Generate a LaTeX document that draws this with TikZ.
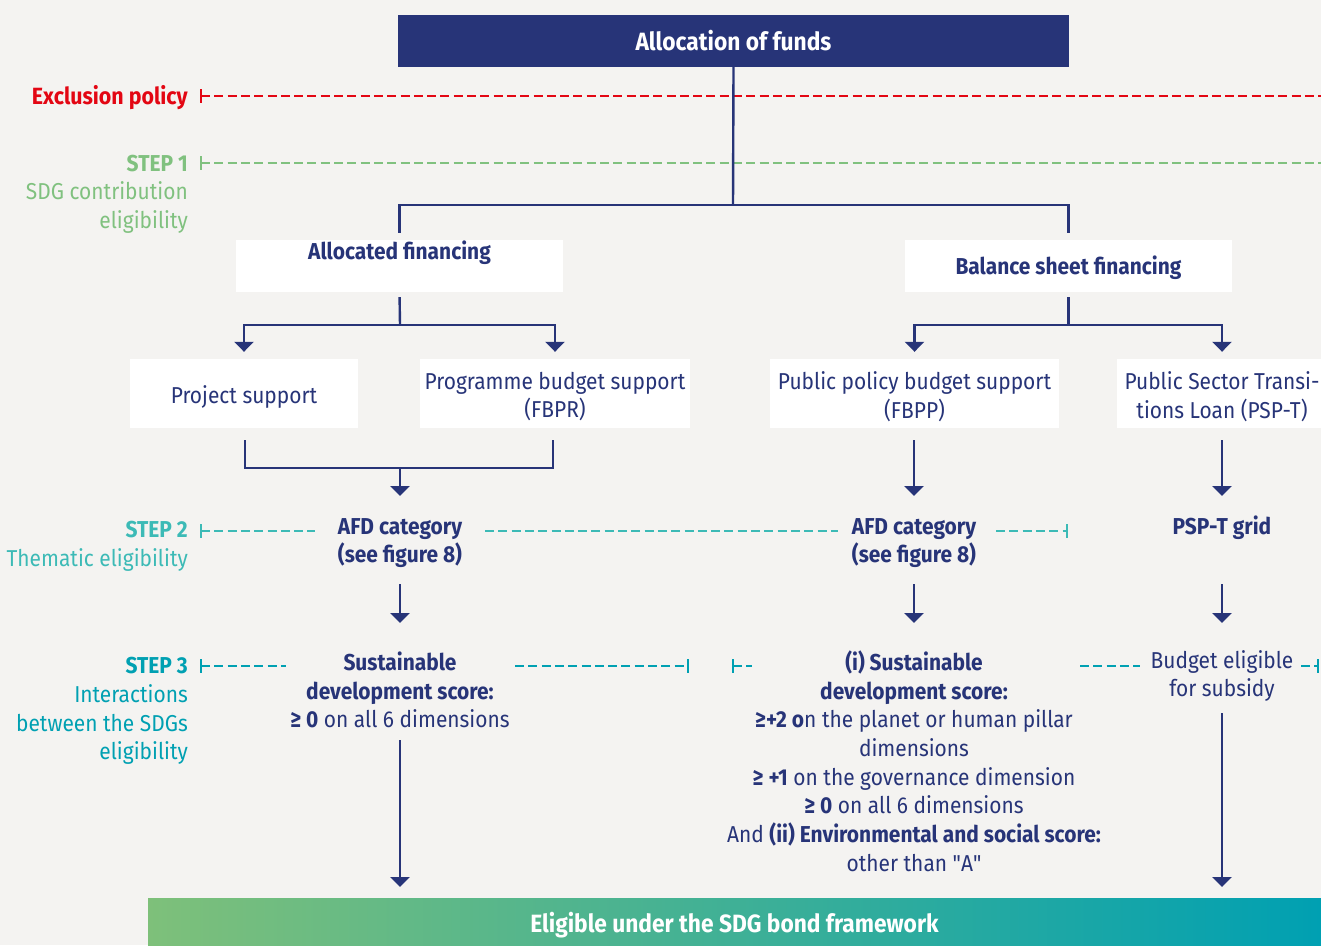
\documentclass[tikz,border=0pt]{standalone}
\usepackage{fontspec}
\setmainfont{Fira Sans}[FakeStretch=0.91]
\newfontfamily\rawfont{Fira Sans}[FakeStretch=0.91]
\usetikzlibrary{arrows.meta}
\definecolor{bg}{RGB}{244,243,241}
\definecolor{navy}{RGB}{39,52,120}
\definecolor{exred}{RGB}{227,6,19}
\definecolor{sgreen}{RGB}{128,193,127}
\definecolor{steal}{RGB}{60,186,182}
\definecolor{dteal}{RGB}{0,160,178}
\definecolor{bargreen}{RGB}{126,192,122}
\definecolor{barteal}{RGB}{0,160,178}
\begin{document}
\begin{tikzpicture}[x=1pt,y=-1pt,
  txt/.style={font=\fontsize{23}{28.7}\selectfont, text=navy, inner sep=0pt, align=center},
  hd/.style={txt, font=\fontsize{23}{28.7}\selectfont\bfseries},
  lbl/.style={inner sep=0pt, align=right, anchor=east, font=\fontsize{23}{28.7}\selectfont},
  wbox/.style={fill=white, inner sep=0pt},
  conn/.style={draw=navy, line width=2.4pt},
  arr/.style={conn, -{Triangle[width=19pt,length=10pt]}},
  dline/.style={line width=2.4pt, dash pattern=on 9pt off 4.3pt},
  tick/.style={line width=2.4pt},
]
\useasboundingbox[fill=bg] (0,0) rectangle (1321,945);

% top box
\node[fill=navy, minimum width=671pt, minimum height=52pt, inner sep=0pt, text=white,
      font=\fontsize{25}{28}\selectfont\bfseries] (top) at (733.5,41) {Allocation of funds};

% left labels
\node[lbl, text=exred, font=\fontsize{23.5}{28.7}\selectfont\bfseries] (excl) at (188,98) {Exclusion policy};
\node[lbl, text=sgreen] (s1) at (188,194) {\textbf{STEP 1}\\SDG contribution\\eligibility};
\node[lbl, text=steal] (s2) at (188,546) {\textbf{STEP 2}\\Thematic eligibility};
\node[lbl, text=dteal] (s3) at (188,711) {\textbf{STEP 3}\\Interactions\\between the SDGs\\eligibility};

% dashed policy lines
\draw[exred, dline] (201,96) -- (1321,96);
\draw[exred, tick] (201,89) -- (201,103);
\draw[sgreen, dline] (201,163) -- (1321,163);
\draw[sgreen, tick] (201,156) -- (201,170);

% step 2 lines
\draw[steal, dline] (201,531) -- (315,531);
\draw[steal, tick] (201,524) -- (201,538);
\draw[steal, dline] (485,531) -- (838,531);
\draw[steal, dline] (996,531) -- (1067,531);
\draw[steal, tick] (1067,524) -- (1067,538);

% step 3 lines
\draw[dteal, dline] (201,666) -- (286,666);
\draw[dteal, tick] (201,659) -- (201,673);
\draw[dteal, dline] (515,666) -- (688,666);
\draw[dteal, tick] (688,659) -- (688,673);
\draw[dteal, dline] (733,666) -- (752,666);
\draw[dteal, tick] (733,659) -- (733,673);
\draw[dteal, dline] (1080,666) -- (1140,666);
\draw[dteal, dline] (1301,666) -- (1318,666);
\draw[dteal, tick] (1318,659) -- (1318,673);

% financing boxes
\node[wbox, minimum width=327pt, minimum height=52pt] (alloc) at (399.5,266) {};
\node[hd] (allocT) at (399.5,253) {Allocated financing};
\node[wbox, minimum width=327pt, minimum height=52pt] (bal) at (1068.5,266) {};
\node[hd] (balT) at (1068.5,268) {Balance sheet financing};

\coordinate (split) at (733,205);
\draw[conn] (top.south) -- (split);
\draw[conn, shorten >=7pt] (split) -| (alloc.north);
\draw[conn, shorten >=7pt] (split) -| (bal.north);

% second level boxes
\node[wbox, minimum width=228pt, minimum height=69pt] (proj) at (244,393.5) {};
\node[wbox, minimum width=270pt, minimum height=69pt] (prog) at (555,393.5) {};
\node[wbox, minimum width=289pt, minimum height=69pt] (ppbs) at (914.5,393.5) {};
\node[wbox, minimum width=210pt, minimum height=69pt] (psp) at (1222,393.5) {};
\node[txt] (projT) at (244,396.5) {Project support};
\node[txt] (progT) at (555,396.5) {Programme budget support\\(FBPR)};
\node[txt] (ppbsT) at (914.5,396.5) {Public policy budget support\\(FBPP)};
\node[txt] (pspT) at (1222,396.5) {Public Sector Transi-\\tions Loan (PSP-T)};

\coordinate (aj) at (400,325);
\coordinate (bj) at (1068.5,325);
\draw[conn, shorten <=5pt] (alloc.south) -- (aj);
\draw[arr, shorten >=7pt] (aj) -| (proj.north);
\draw[arr, shorten >=7pt] (aj) -| (prog.north);
\draw[conn, shorten <=5pt] (bal.south) -- (bj);
\draw[arr, shorten >=7pt] (bj) -| (ppbs.north);
\draw[arr, shorten >=7pt] (bj) -| (psp.north);

% step 2 nodes
\node[hd] (afd1) at (400,543) {AFD category\\(see figure 8)};
\node[hd] (afd2) at (914,543) {AFD category\\(see figure 8)};
\node[hd] (grid) at (1222,528) {PSP-T grid};

\coordinate (mj) at (400,468);
\coordinate (a1tip) at (400,496);
\coordinate (a2tip) at (914,496);
\coordinate (a3tip) at (1222,496);
\draw[conn] (245,440) |- (mj);
\draw[conn] (553,440) |- (mj);
\draw[arr] (mj) -- (a1tip);
\draw[arr] (914,440) -- (a2tip);
\draw[arr] (1222,440) -- (a3tip);

% step 3 nodes
\node[txt] (sdL) at (400,690) {\textbf{Sustainable}\\\textbf{development score:}\\\textbf{≥ 0} on all 6 dimensions};
\node[txt] (sdR) at (914,761) {\textbf{(i) Sustainable}\\\textbf{development score:}\\\textbf{≥+2 o}n the planet or human pillar\\dimensions\\\textbf{≥ +1} on the governance dimension\\\textbf{≥ 0} on all 6 dimensions\\And \textbf{(ii) Environmental and social score:}\\other than {\rawfont"}A{\rawfont"}};
\node[txt] (budg) at (1222,676) {Budget eligible\\for subsidy};

\draw[arr] (400,584) -- (400,623);
\draw[arr] (914,584) -- (914,623);
\draw[arr] (1222,584) -- (1222,623);

% final bar
\shade[left color=bargreen, right color=barteal] (148,898) rectangle (1321,945);
\node[inner sep=0pt, text=white, font=\fontsize{25}{28}\selectfont\bfseries] (final) at (734.5,925) {Eligible under the SDG bond framework};

\coordinate (fL) at (400,887);
\coordinate (fR) at (1222,887);
\draw[arr] (400,740) -- (fL);
\draw[arr] (1222,713) -- (fR);
\end{tikzpicture}
\end{document}
